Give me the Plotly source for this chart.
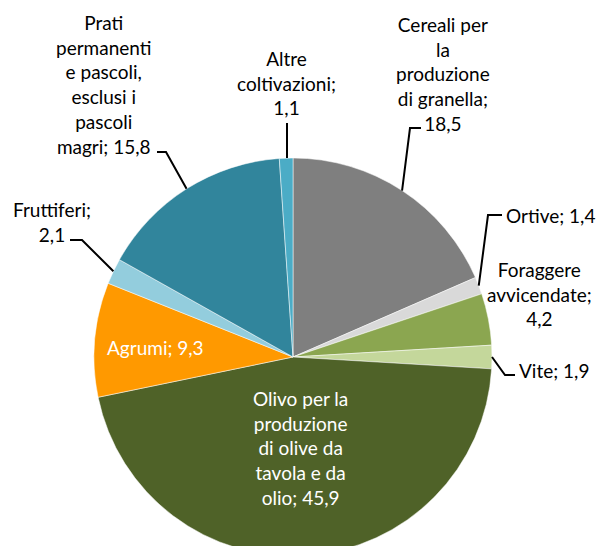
import math
import plotly.graph_objects as go

# ---- data ----
categories = [
    "Cereali per la produzione di granella",
    "Ortive",
    "Foraggere avvicendate",
    "Vite",
    "Olivo per la produzione di olive da tavola e da olio",
    "Agrumi",
    "Fruttiferi",
    "Prati permanenti e pascoli, esclusi i pascoli magri",
    "Altre coltivazioni",
]
values = [18.5, 1.4, 4.2, 1.9, 45.9, 9.3, 2.1, 15.8, 1.1]
label_texts = [
    "Cereali per<br>la<br>produzione<br>di granella;<br>18,5",
    "Ortive; 1,4",
    "Foraggere<br>avvicendate;<br>4,2",
    "Vite; 1,9",
    "Olivo per la<br>produzione<br>di olive da<br>tavola e da<br>olio; 45,9",
    "Agrumi; 9,3",
    "Fruttiferi;<br>2,1",
    "Prati<br>permanenti<br>e pascoli,<br>esclusi i<br>pascoli<br>magri; 15,8",
    "Altre<br>coltivazioni;<br>1,1",
]
colors = ["#7f7f7f", "#d9d9d9", "#8ba650", "#c4d79b", "#4f6228",
          "#ff9900", "#93cddd", "#31859c", "#4bacc6"]

# ---- layout constants (pixels) ----
W, H = 598, 566
CX, CY, R = 293, 357, 199
FONT = "Lato"
FS = 19

# label placement: (x, y, xanchor, color)
label_pos = [
    (443, 74, "center", "#000000"),
    (504, 215, "left", "#000000"),
    (539, 294, "center", "#000000"),
    (517, 370, "left", "#000000"),
    (300, 448, "center", "#ffffff"),
    (155, 347, "center", "#ffffff"),
    (52, 222, "center", "#000000"),
    (103, 85, "center", "#000000"),
    (286, 83, "center", "#000000"),
]
# leader line bend/end points (None = no leader line)
leaders = [
    [(410, 128), (421, 128)],
    [(488, 215), (502, 215)],
    None,
    [(505, 375), (515, 375)],
    None,
    None,
    [(82, 240), (70, 240)],
    [(166, 152), (157, 152)],
    [None, (287, 123)],
]


def px(x):
    return x / W


def py(y):
    return 1 - y / H


fig = go.Figure()
fig.add_trace(go.Pie(
    labels=categories,
    values=values,
    sort=False,
    direction="clockwise",
    rotation=0,
    marker=dict(colors=colors, line=dict(color="#ffffff", width=0.5)),
    textinfo="none",
    hoverinfo="label+value",
    showlegend=False,
    domain=dict(x=[px(CX - R), px(CX + R)], y=[py(CY + R), py(CY - R)]),
))

annotations = []
for txt, (x, y, xa, col) in zip(label_texts, label_pos):
    annotations.append(dict(
        x=px(x), y=py(y), xref="paper", yref="paper",
        text=txt, showarrow=False, xanchor=xa, yanchor="middle",
        align="center", font=dict(family=FONT, size=FS, color=col),
    ))

shapes = []
total = sum(values)
cum = 0.0
for v, pts in zip(values, leaders):
    mid = (cum + v / 2) / total * 2 * math.pi
    cum += v
    if pts is None:
        continue
    ex = CX + R * math.sin(mid)
    ey = CY - R * math.cos(mid)
    if pts[0] is None:
        # vertical leader
        path_pts = [(pts[1][0], ey), pts[1]]
    else:
        path_pts = [(ex, ey)] + list(pts)
    d = "M " + " L ".join(f"{px(a)},{py(b)}" for a, b in path_pts)
    shapes.append(dict(type="path", xref="paper", yref="paper", path=d,
                       line=dict(color="#000000", width=2)))

fig.update_layout(
    width=W, height=H,
    margin=dict(l=0, r=0, t=0, b=0),
    paper_bgcolor="#ffffff",
    plot_bgcolor="#ffffff",
    annotations=annotations,
    shapes=shapes,
)

fig.write_html(
    "out.html",
    config={"displayModeBar": False},
    post_script="document.body.style.margin='0';document.body.style.overflow='hidden';",
)
